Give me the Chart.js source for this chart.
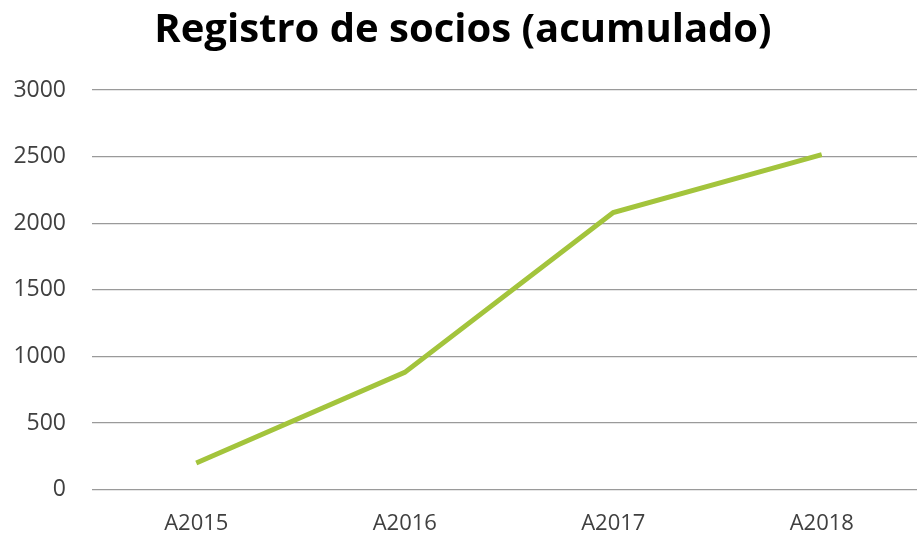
<!DOCTYPE html>
<html>
<head>
<meta charset="utf-8">
<script src="https://cdn.jsdelivr.net/npm/chart.js@4"></script>
<style>
  html, body { margin: 0; padding: 0; background: #fff; overflow: hidden; }
  #wrap { width: 945px; height: 558px; }
</style>
</head>
<body>
<div id="wrap"><canvas id="sociosChart" width="945" height="558"></canvas></div>
<script>
// data
var years = ["A2015", "A2016", "A2017", "A2018"];
var socios = [200, 880, 2080, 2515];
var yTicks = [0, 500, 1000, 1500, 2000, 2500, 3000];

var chart1 = new Chart(document.getElementById("sociosChart").getContext("2d"), {
  type: 'line',
  data: {
    labels: years,
    datasets: [{
      data: socios,
      label: "Socios",
      borderColor: "#a3c43c",
      borderWidth: 5,
      pointRadius: 0,
      tension: 0,
      fill: false
    }]
  },
  options: {
    responsive: false,
    animation: false,
    layout: { padding: { left: 0, right: 19, top: 0, bottom: 0 } },
    plugins: {
      legend: { display: false },
      tooltip: { enabled: false },
      title: {
        display: true,
        text: 'Registro de socios (acumulado)',
        color: '#000',
        font: { family: 'Open Sans', size: 40, weight: 'bold', lineHeight: 1.2 },
        padding: { top: 7, bottom: 35 }
      }
    },
    scales: {
      x: {
        offset: true,
        grid: { display: false, drawTicks: false },
        border: { display: false },
        ticks: {
          color: '#404040',
          font: { family: 'Open Sans', size: 22, lineHeight: 1.2 },
          padding: 21
        }
      },
      y: {
        min: 0,
        max: 3000,
        afterBuildTicks: function(axis) {
          axis.ticks = yTicks.map(function(v) { return { value: v }; });
        },
        afterFit: function(axis) { axis.width = 92; },
        grid: { color: '#9a9a9a', lineWidth: 1.3, drawTicks: false },
        border: { display: false },
        ticks: {
          color: '#404040',
          font: { family: 'Open Sans', size: 23 },
          padding: 26,
          callback: function(v) { return String(v); }
        }
      }
    }
  }
});
</script>
</body>
</html>
